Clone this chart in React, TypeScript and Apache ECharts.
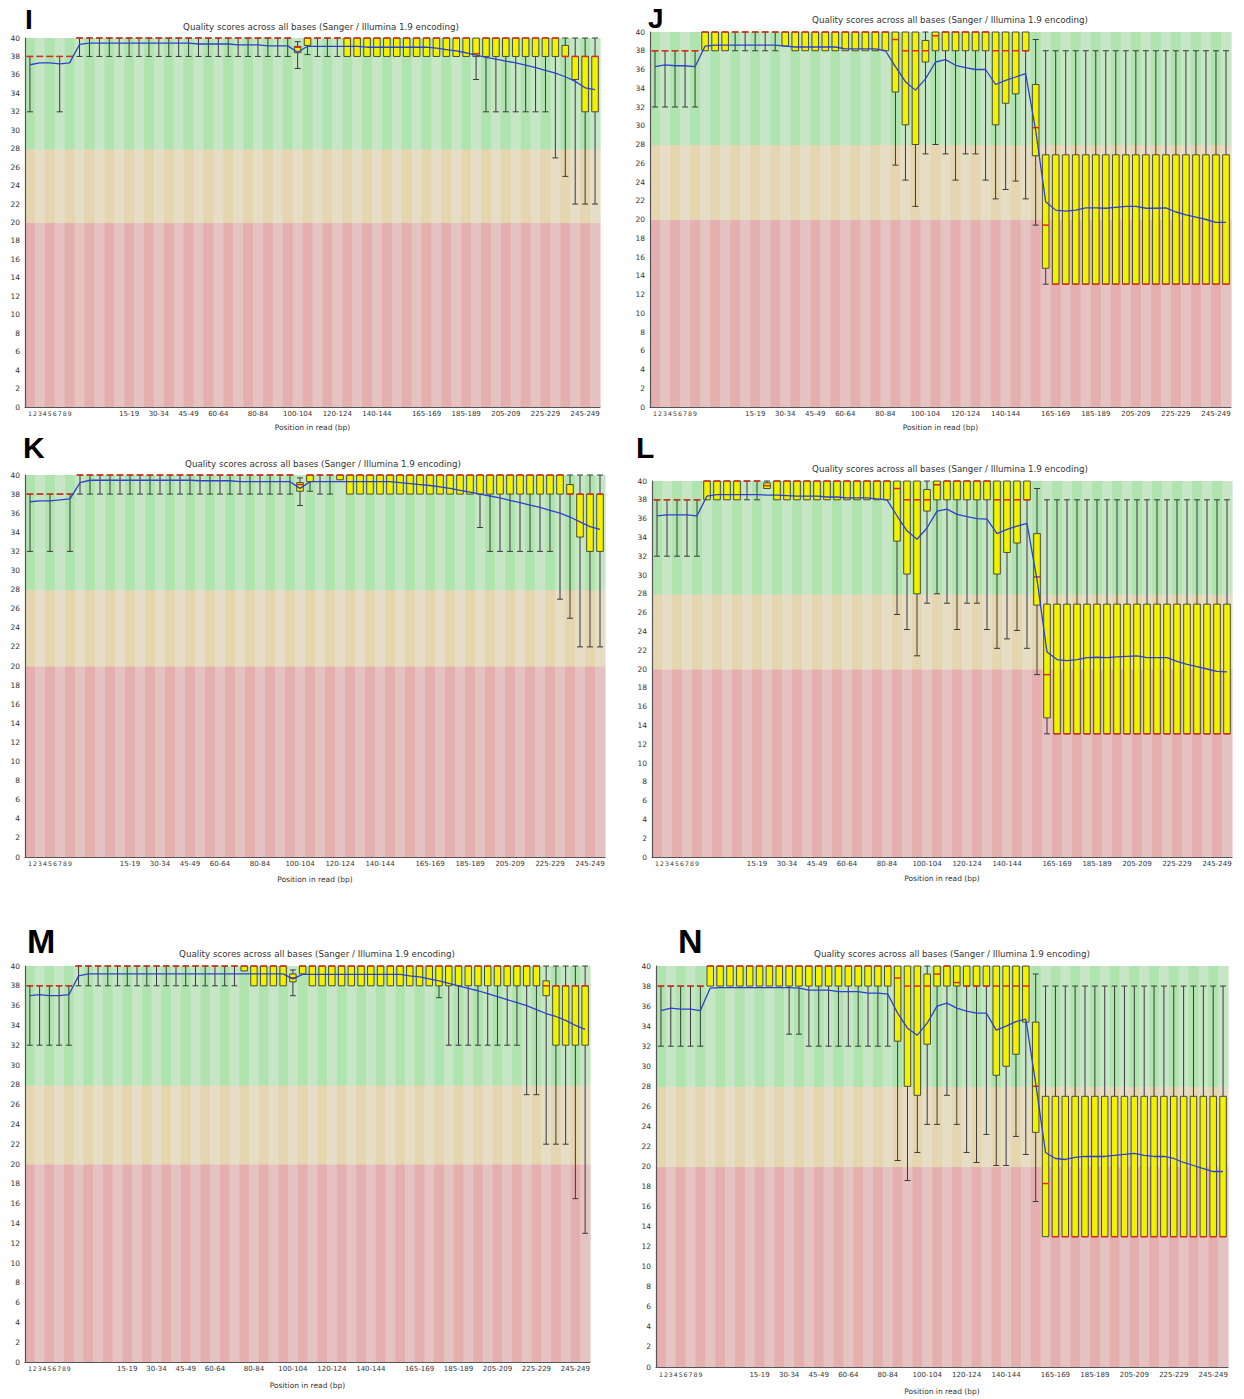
import React, { useEffect, useRef } from 'react';
import * as echarts from 'echarts';

// ---------- categories & tick labels ----------
const categories = [
  '1', '2', '3', '4', '5', '6', '7', '8', '9', '10-14', '15-19', '20-24', '25-29', '30-34', '35-39',
  '40-44', '45-49', '50-54', '55-59', '60-64', '65-69', '70-74', '75-79', '80-84', '85-89', '90-94',
  '95-99', '100-104', '105-109', '110-114', '115-119', '120-124', '125-129', '130-134', '135-139',
  '140-144', '145-149', '150-154', '155-159', '160-164', '165-169', '170-174', '175-179', '180-184',
  '185-189', '190-194', '195-199', '200-204', '205-209', '210-214', '215-219', '220-224', '225-229',
  '230-234', '235-239', '240-244', '245-249', '250-251',
];
const shownLabels = [
  '1', '2', '3', '4', '5', '6', '7', '8', '9', '15-19', '30-34', '45-49', '60-64', '80-84', '100-104',
  '120-124', '140-144', '165-169', '185-189', '205-209', '225-229', '245-249',
];
const yTicks = [0, 40, 2]; // min, max, step

// ---------- panel I ----------
const iLow = [32, 38, 38, 32, 38,
  38, 38, 38, 38, 38, 38, 38, 38, 38, 38, 38,
  38, 38, 38, 38, 38, 38, 38, 38, 38, 38, 38,
  36.7, 38.2, 38, 38, 38,
  38, 38, 38, 38, 38, 38, 38, 38, 38, 38, 38, 38, 38,
  35.5, 32, 32, 32, 32, 32, 32, 32,
  27, 25, 22, 22, 22];
const iQ1 = [38, 38, 38, 38, 38,
  40, 40, 40, 40, 40, 40, 40, 40, 40, 40, 40,
  40, 40, 40, 40, 40, 40, 40, 40, 40, 40, 40,
  38.4, 39.2, 40, 40, 40,
  38, 38, 38, 38, 38, 38, 38, 38, 38, 38, 38, 38, 38,
  38, 38, 38, 38, 38, 38, 38, 38,
  38, 38, 35.5, 32, 32];
const iMed = [38, 38, 38, 38, 38,
  40, 40, 40, 40, 40, 40, 40, 40, 40, 40, 40,
  40, 40, 40, 40, 40, 40, 40, 40, 40, 40, 40,
  39.0, 40, 40, 40, 40,
  40, 40, 40, 40, 40, 40, 40, 40, 40, 40, 40, 40, 40,
  38.3, 40, 40, 40, 40, 40, 40, 40,
  40, 38, 38, 38, 38];
const iQ3 = [38, 38, 38, 38, 38,
  40, 40, 40, 40, 40, 40, 40, 40, 40, 40, 40,
  40, 40, 40, 40, 40, 40, 40, 40, 40, 40, 40,
  39.1, 40, 40, 40, 40,
  40, 40, 40, 40, 40, 40, 40, 40, 40, 40, 40, 40, 40,
  40, 40, 40, 40, 40, 40, 40, 40,
  40, 39.2, 38, 38, 38];
const iHigh = [38, 38, 38, 38, 38,
  40, 40, 40, 40, 40, 40, 40, 40, 40, 40, 40,
  40, 40, 40, 40, 40, 40, 40, 40, 40, 40, 40,
  39.6, 40, 40, 40, 40,
  40, 40, 40, 40, 40, 40, 40, 40, 40, 40, 40, 40, 40,
  40, 40, 40, 40, 40, 40, 40, 40,
  40, 40, 40, 40, 40];
const iMean = [37.1, 37.3, 37.3, 37.2, 37.3,
  39.3, 39.45, 39.45, 39.45, 39.45, 39.45, 39.45, 39.45, 39.45, 39.45, 39.45,
  39.45, 39.35, 39.35, 39.35, 39.35, 39.25, 39.25, 39.25, 39.15, 39.15, 39.15,
  38.45, 39.1, 39.1, 39.1, 39.1,
  39.1, 39.1, 39.0, 39.0, 39.0, 39.0, 39.0, 39.0, 39.0, 38.9, 38.75, 38.6, 38.4,
  38.15, 37.9, 37.7, 37.5, 37.3, 37.05, 36.8, 36.5,
  36.2, 35.8, 35.3, 34.6, 34.4];

// ---------- panel J ----------
const jLow = [32, 32, 32, 32, 32,
  38, 38, 38, 38, 38, 38, 38, 38, 38.5, 38, 38,
  38, 38, 38, 38, 38, 38, 38, 38, 25.8, 24.2, 21.4,
  27, 28, 27, 24.2, 27,
  27, 24.2, 22.2, 23.2, 24.1, 22.2, 19.4, 13.1, 13.1, 13.1, 13.1, 13.1, 13.1,
  13.1, 13.1, 13.1, 13.1, 13.1, 13.1, 13.1, 13.1,
  13.1, 13.1, 13.1, 13.1, 13.1];
const jQ1 = [38, 38, 38, 38, 38,
  38, 38, 38, 40, 40, 40, 40, 40, 38.5, 38, 38,
  38, 38, 38, 38, 38, 38, 38, 38, 33.6, 30.1, 28,
  36.8, 38, 38, 38, 38,
  38, 38, 30.1, 32.4, 33.4, 38, 26.8, 14.8, 13.1, 13.1, 13.1, 13.1, 13.1,
  13.1, 13.1, 13.1, 13.1, 13.1, 13.1, 13.1, 13.1,
  13.1, 13.1, 13.1, 13.1, 13.1];
const jMed = [38, 38, 38, 38, 38,
  40, 40, 40, 40, 40, 40, 40, 40, 40, 40, 40,
  40, 40, 40, 40, 40, 40, 40, 40, 39.2, 38, 38,
  38, 39.6, 40, 40, 40,
  40, 40, 38, 38, 38, 38, 29.8, 19.4, 13.1, 13.1, 13.1, 13.1, 13.1,
  13.1, 13.1, 13.1, 13.1, 13.1, 13.1, 13.1, 13.1,
  13.1, 13.1, 13.1, 13.1, 13.1];
const jQ3 = [38, 38, 38, 38, 38,
  40, 40, 40, 40, 40, 40, 40, 40, 40, 40, 40,
  40, 40, 40, 40, 40, 40, 40, 40, 40, 40, 40,
  39.1, 40, 40, 40, 40,
  40, 40, 40, 40, 40, 40, 34.4, 26.9, 26.9, 26.9, 26.9, 26.9, 26.9,
  26.9, 26.9, 26.9, 26.9, 26.9, 26.9, 26.9, 26.9,
  26.9, 26.9, 26.9, 26.9, 26.9];
const jHigh = [38, 38, 38, 38, 38,
  40, 40, 40, 40, 40, 40, 40, 40, 40, 40, 40,
  40, 40, 40, 40, 40, 40, 40, 40, 40, 40, 40,
  40, 40, 40, 40, 40,
  40, 40, 40, 40, 40, 40, 39.2, 38, 38, 38, 38, 38, 38,
  38, 38, 38, 38, 38, 38, 38, 38,
  38, 38, 38, 38, 38];
const jMean = [36.3, 36.5, 36.4, 36.4, 36.3,
  38.5, 38.6, 38.6, 38.6, 38.6, 38.6, 38.6, 38.6, 38.5, 38.4, 38.4,
  38.4, 38.4, 38.4, 38.2, 38.2, 38.2, 38.2, 38.0, 36.3, 34.7, 33.8,
  35.0, 36.8, 37.05, 36.45, 36.2,
  36.0, 36.0, 34.4, 34.85, 35.2, 35.55, 29.5, 21.9, 21.0, 20.9, 21.0, 21.25, 21.25,
  21.2, 21.3, 21.4, 21.4, 21.2, 21.2, 21.25, 20.8,
  20.5, 20.25, 20.0, 19.7, 19.7];

// ---------- panel K ----------
const kLow = [32, 38, 32, 38, 32,
  38, 38, 38, 38, 38, 38, 38, 38, 38, 38, 38,
  38, 38, 38, 38, 38, 38, 38, 38, 38, 38, 38,
  36.8, 38.3, 38, 38, 39.5,
  38, 38, 38, 38, 38, 38, 38, 38, 38, 38, 38, 38, 38,
  34.5, 32, 32, 32, 32, 32, 32, 32,
  27, 25, 22, 22, 22];
const kQ1 = [38, 38, 38, 38, 38,
  40, 40, 40, 40, 40, 40, 40, 40, 40, 40, 40,
  40, 40, 40, 40, 40, 40, 40, 40, 40, 40, 40,
  38.3, 39.3, 40, 40, 39.5,
  38, 38, 38, 38, 38, 38, 38, 38, 38, 38, 38, 38, 38,
  38, 38, 38, 38, 38, 38, 38, 38,
  38, 38, 33.5, 32, 32];
const kMed = [38, 38, 38, 38, 38,
  40, 40, 40, 40, 40, 40, 40, 40, 40, 40, 40,
  40, 40, 40, 40, 40, 40, 40, 40, 40, 40, 40,
  39.0, 40, 40, 40, 40,
  40, 40, 40, 40, 40, 40, 40, 40, 40, 40, 40, 40, 40,
  40, 40, 40, 40, 40, 40, 40, 40,
  40, 38, 38, 38, 38];
const kQ3 = [38, 38, 38, 38, 38,
  40, 40, 40, 40, 40, 40, 40, 40, 40, 40, 40,
  40, 40, 40, 40, 40, 40, 40, 40, 40, 40, 40,
  39.2, 40, 40, 40, 40,
  40, 40, 40, 40, 40, 40, 40, 40, 40, 40, 40, 40, 40,
  40, 40, 40, 40, 40, 40, 40, 40,
  40, 39.0, 38, 38, 38];
const kHigh = [38, 38, 38, 38, 38,
  40, 40, 40, 40, 40, 40, 40, 40, 40, 40, 40,
  40, 40, 40, 40, 40, 40, 40, 40, 40, 40, 40,
  39.7, 40, 40, 40, 40,
  40, 40, 40, 40, 40, 40, 40, 40, 40, 40, 40, 40, 40,
  40, 40, 40, 40, 40, 40, 40, 40,
  40, 40, 40, 40, 40];
const kMean = [37.2, 37.3, 37.3, 37.4, 37.5,
  39.2, 39.45, 39.45, 39.45, 39.45, 39.45, 39.45, 39.45, 39.45, 39.45, 39.45,
  39.45, 39.4, 39.4, 39.4, 39.4, 39.3, 39.3, 39.3, 39.3, 39.3, 39.3,
  38.6, 39.3, 39.3, 39.3, 39.3,
  39.3, 39.3, 39.3, 39.3, 39.3, 39.2, 39.1, 39.0, 38.9, 38.75, 38.6, 38.4, 38.2,
  38.0, 37.8, 37.6, 37.35, 37.1, 36.85, 36.6, 36.3,
  36.0, 35.6, 35.1, 34.6, 34.3];

// ---------- panel L ----------
const lLow = [32, 32, 32, 32, 32,
  38, 38, 38, 38, 38, 38, 39.2, 38, 38, 38, 38,
  38, 38, 38, 38, 38, 38, 38, 38, 25.8, 24.2, 21.4,
  27, 28, 27, 24.2, 27,
  27, 24.2, 22.2, 23.2, 24.1, 22.2, 19.4, 13.1, 13.1, 13.1, 13.1, 13.1, 13.1,
  13.1, 13.1, 13.1, 13.1, 13.1, 13.1, 13.1, 13.1,
  13.1, 13.1, 13.1, 13.1, 13.1];
const lQ1 = [38, 38, 38, 38, 38,
  38, 38, 38, 38, 40, 40, 39.2, 38, 38, 38, 38,
  38, 38, 38, 38, 38, 38, 38, 38, 33.6, 30.1, 28,
  36.8, 38, 38, 38, 38,
  38, 38, 30.1, 32.4, 33.4, 38, 26.8, 14.8, 13.1, 13.1, 13.1, 13.1, 13.1,
  13.1, 13.1, 13.1, 13.1, 13.1, 13.1, 13.1, 13.1,
  13.1, 13.1, 13.1, 13.1, 13.1];
const lMed = [38, 38, 38, 38, 38,
  40, 40, 40, 40, 40, 40, 39.5, 40, 40, 40, 40,
  40, 40, 40, 40, 40, 40, 40, 40, 39.2, 38, 38,
  38, 39.6, 40, 40, 40,
  40, 40, 38, 38, 38, 38, 29.8, 19.4, 13.1, 13.1, 13.1, 13.1, 13.1,
  13.1, 13.1, 13.1, 13.1, 13.1, 13.1, 13.1, 13.1,
  13.1, 13.1, 13.1, 13.1, 13.1];
const lQ3 = [38, 38, 38, 38, 38,
  40, 40, 40, 40, 40, 40, 39.8, 40, 40, 40, 40,
  40, 40, 40, 40, 40, 40, 40, 40, 40, 40, 40,
  39.1, 40, 40, 40, 40,
  40, 40, 40, 40, 40, 40, 34.4, 26.9, 26.9, 26.9, 26.9, 26.9, 26.9,
  26.9, 26.9, 26.9, 26.9, 26.9, 26.9, 26.9, 26.9,
  26.9, 26.9, 26.9, 26.9, 26.9];
const lHigh = [38, 38, 38, 38, 38,
  40, 40, 40, 40, 40, 40, 40, 40, 40, 40, 40,
  40, 40, 40, 40, 40, 40, 40, 40, 40, 40, 40,
  40, 40, 40, 40, 40,
  40, 40, 40, 40, 40, 40, 39.2, 38, 38, 38, 38, 38, 38,
  38, 38, 38, 38, 38, 38, 38, 38,
  38, 38, 38, 38, 38];
const lMean = [36.3, 36.4, 36.4, 36.4, 36.3,
  38.4, 38.55, 38.55, 38.55, 38.55, 38.55, 38.5, 38.5, 38.45, 38.4, 38.4,
  38.4, 38.3, 38.3, 38.2, 38.2, 38.2, 38.1, 38.0, 36.3, 34.7, 33.8,
  35.0, 36.8, 37.0, 36.45, 36.2,
  36.0, 35.95, 34.4, 34.85, 35.2, 35.5, 29.5, 21.8, 21.0, 20.9, 21.0, 21.2, 21.25,
  21.2, 21.3, 21.35, 21.4, 21.2, 21.2, 21.2, 20.8,
  20.5, 20.25, 20.0, 19.75, 19.7];

// ---------- panel M ----------
const mLow = [32, 32, 32, 32, 32,
  38, 38, 38, 38, 38, 38, 38, 38, 38, 38, 38,
  38, 38, 38, 38, 38, 38, 39.5, 38, 38, 38, 38,
  37, 39.2, 38, 38, 38,
  38, 38, 38, 38, 38, 38, 38, 38, 38, 38, 36.8, 32, 32,
  32, 32, 32, 32, 32, 32, 27, 27,
  22, 22, 22, 16.5, 13];
const mQ1 = [38, 38, 38, 38, 38,
  40, 40, 40, 40, 40, 40, 40, 40, 40, 40, 40,
  40, 40, 40, 40, 40, 40, 39.5, 38, 38, 38, 38,
  38.4, 39.2, 38, 38, 38,
  38, 38, 38, 38, 38, 38, 38, 38, 38, 38, 38, 38, 38,
  38, 38, 38, 38, 38, 38, 38, 38,
  37, 32, 32, 32, 32];
const mMed = [38, 38, 38, 38, 38,
  40, 40, 40, 40, 40, 40, 40, 40, 40, 40, 40,
  40, 40, 40, 40, 40, 40, 40, 40, 40, 40, 40,
  38.8, 40, 40, 40, 40,
  40, 40, 40, 40, 40, 40, 40, 40, 40, 40, 40, 40, 40,
  40, 40, 40, 40, 40, 40, 40, 40,
  38, 38, 38, 38, 38];
const mQ3 = [38, 38, 38, 38, 38,
  40, 40, 40, 40, 40, 40, 40, 40, 40, 40, 40,
  40, 40, 40, 40, 40, 40, 40, 40, 40, 40, 40,
  39.2, 40, 40, 40, 40,
  40, 40, 40, 40, 40, 40, 40, 40, 40, 40, 40, 40, 40,
  40, 40, 40, 40, 40, 40, 40, 40,
  38.5, 38, 38, 38, 38];
const mHigh = [38, 38, 38, 38, 38,
  40, 40, 40, 40, 40, 40, 40, 40, 40, 40, 40,
  40, 40, 40, 40, 40, 40, 40, 40, 40, 40, 40,
  39.6, 40, 40, 40, 40,
  40, 40, 40, 40, 40, 40, 40, 40, 40, 40, 40, 40, 40,
  40, 40, 40, 40, 40, 40, 40, 40,
  40, 40, 40, 40, 40];
const mMean = [37.0, 37.1, 37.0, 37.0, 37.1,
  39.0, 39.2, 39.2, 39.2, 39.2, 39.2, 39.2, 39.2, 39.2, 39.2, 39.2,
  39.2, 39.2, 39.2, 39.2, 39.2, 39.2, 39.2, 39.2, 39.2, 39.2, 39.2,
  38.7, 39.15, 39.15, 39.15, 39.15,
  39.15, 39.15, 39.15, 39.15, 39.15, 39.15, 39.15, 39.0, 38.9, 38.7, 38.5, 38.25, 38.0,
  37.75, 37.5, 37.2, 36.9, 36.6, 36.3, 36.0, 35.6,
  35.2, 34.9, 34.5, 34.0, 33.6];

// ---------- panel N ----------
const nLow = [32, 32, 32, 32, 32,
  38, 38, 38, 38, 38, 38, 38, 38, 33.2, 33.2, 32,
  32, 32, 32, 32, 32, 32, 32, 32, 20.6, 18.6, 21.4,
  24.2, 24.2, 27.1, 24.2, 21.4,
  20.4, 23.2, 20.1, 20.1, 23.0, 21.2, 16.5, 13, 13, 13, 13, 13, 13,
  13, 13, 13, 13, 13, 13, 13, 13,
  13, 13, 13, 13, 13];
const nQ1 = [38, 38, 38, 38, 38,
  38, 38, 38, 38, 38, 38, 38, 38, 38, 38, 38,
  38, 38, 38, 38, 38, 38, 38, 38, 32.5, 28, 27.1,
  32.2, 38, 38, 38, 38,
  38, 38, 29.1, 30.0, 31.2, 34.4, 23.4, 13, 13, 13, 13, 13, 13,
  13, 13, 13, 13, 13, 13, 13, 13,
  13, 13, 13, 13, 13];
const nMed = [38, 38, 38, 38, 38,
  40, 40, 40, 40, 40, 40, 40, 40, 40, 40, 40,
  40, 40, 40, 40, 40, 40, 40, 40, 38.8, 38, 38,
  38, 39.2, 40, 38.35, 38,
  38, 38, 38, 38, 38, 38, 28.0, 18.3, 13, 13, 13, 13, 13,
  13, 13, 13, 13, 13, 13, 13, 13,
  13, 13, 13, 13, 13];
const nQ3 = [38, 38, 38, 38, 38,
  40, 40, 40, 40, 40, 40, 40, 40, 40, 40, 40,
  40, 40, 40, 40, 40, 40, 40, 40, 40, 40, 40,
  39.2, 40, 40, 40, 40,
  40, 40, 40, 40, 40, 40, 34.4, 27, 27, 27, 27, 27, 27,
  27, 27, 27, 27, 27, 27, 27, 27,
  27, 27, 27, 27, 27];
const nHigh = [38, 38, 38, 38, 38,
  40, 40, 40, 40, 40, 40, 40, 40, 40, 40, 40,
  40, 40, 40, 40, 40, 40, 40, 40, 40, 40, 40,
  40, 40, 40, 40, 40,
  40, 40, 40, 40, 40, 40, 39.2, 38, 38, 38, 38, 38, 38,
  38, 38, 38, 38, 38, 38, 38, 38,
  38, 38, 38, 38, 38];
const nMean = [35.55, 35.8, 35.7, 35.7, 35.55,
  37.8, 37.85, 37.85, 37.85, 37.85, 37.85, 37.85, 37.85, 37.85, 37.8, 37.6,
  37.6, 37.6, 37.45, 37.45, 37.45, 37.3, 37.3, 37.2, 35.3, 33.8, 33.1,
  34.3, 36.0, 36.3, 35.8, 35.5,
  35.3, 35.3, 33.6, 34.0, 34.45, 34.7, 28.3, 21.4, 20.8, 20.7, 20.9, 21.0, 21.0,
  21.0, 21.1, 21.2, 21.3, 21.1, 21.0, 21.0, 20.8,
  20.4, 20.1, 19.8, 19.5, 19.5];

const TITLE = 'Quality scores across all bases (Sanger / Illumina 1.9 encoding)';
const AXIS_NAME = 'Position in read (bp)';

const panels = [
  { letter: 'I', low: iLow, q1: iQ1, med: iMed, q3: iQ3, high: iHigh, mean: iMean },
  { letter: 'J', low: jLow, q1: jQ1, med: jMed, q3: jQ3, high: jHigh, mean: jMean },
  { letter: 'K', low: kLow, q1: kQ1, med: kMed, q3: kQ3, high: kHigh, mean: kMean },
  { letter: 'L', low: lLow, q1: lQ1, med: lMed, q3: lQ3, high: lHigh, mean: lMean },
  { letter: 'M', low: mLow, q1: mQ1, med: mMed, q3: mQ3, high: mHigh, mean: mMean },
  { letter: 'N', low: nLow, q1: nQ1, med: nMed, q3: nQ3, high: nHigh, mean: nMean },
];

// layout (pixels) — not data
const layouts = [
  { left: 25, top: 38, width: 575, height: 369, tx: 321, ty: 27, lx: 25, ly: 19, ls: 28, gap: 16, lm: 3 },
  { left: 650, top: 32, width: 581, height: 375, tx: 950, ty: 20, lx: 648, ly: 18, ls: 28, gap: 16, lm: 3 },
  { left: 25, top: 475, width: 580, height: 382, tx: 323, ty: 464, lx: 23, ly: 447, ls: 30, gap: 18, lm: 3 },
  { left: 652, top: 481, width: 580, height: 376, tx: 950, ty: 469, lx: 636, ly: 447, ls: 30, gap: 17, lm: 3 },
  { left: 25, top: 966, width: 565, height: 396, tx: 317, ty: 954, lx: 27, ly: 941, ls: 34, gap: 19, lm: 3 },
  { left: 656, top: 966, width: 572, height: 401, tx: 952, ty: 954, lx: 678, ly: 941, ls: 34, gap: 20, lm: 4 },
];

const FONT = '"DejaVu Sans", sans-serif';
const GREEN_D = 'rgb(175,228,175)';
const GREEN_L = 'rgb(198,230,198)';
const ORANGE_D = 'rgb(230,214,176)';
const ORANGE_L = 'rgb(229,221,198)';
const RED_D = 'rgb(230,175,175)';
const RED_L = 'rgb(229,195,195)';
const YELLOW = 'rgb(242,242,0)';
const BOX_EDGE = '#4a4a3a';
const WHISKER = '#3a3a3a';
const MEDIAN = 'rgb(220,45,25)';
const MEAN = 'rgb(45,65,205)';

// label slots: single bases get compressed slots, groups sit on their category centre
const SLOT_COUNT = categories.length * 2 + 1;
const slotLabels: string[] = new Array(SLOT_COUNT).fill('');
shownLabels.forEach((lbl) => {
  const idx = categories.indexOf(lbl);
  const slot = idx < 9 ? idx + 1 : idx * 2 + 1;
  slotLabels[slot] = idx < 9 ? '{d|' + lbl + '}' : lbl;
});
const slotIds = slotLabels.map((_, i) => 's' + i);

function bgRender(params: any, api: any) {
  const i = api.value(0);
  const base = api.coord([i, yTicks[0]]);
  const w = api.size([1, 0])[0];
  const x = base[0] - w / 2;
  const y20 = api.coord([i, 20])[1];
  const y28 = api.coord([i, 28])[1];
  const y40 = api.coord([i, yTicks[1]])[1];
  const dark = i % 2 === 0;
  return {
    type: 'group',
    children: [
      { type: 'rect', shape: { x, y: y20, width: w + 0.6, height: base[1] - y20 }, style: { fill: dark ? RED_D : RED_L } },
      { type: 'rect', shape: { x, y: y28, width: w + 0.6, height: y20 - y28 + 0.6 }, style: { fill: dark ? ORANGE_D : ORANGE_L } },
      { type: 'rect', shape: { x, y: y40, width: w + 0.6, height: y28 - y40 + 0.6 }, style: { fill: dark ? GREEN_D : GREEN_L } },
    ],
  };
}

function boxRender(params: any, api: any) {
  const i = api.value(0);
  const low = api.value(1);
  const q1 = api.value(2);
  const med = api.value(3);
  const q3 = api.value(4);
  const high = api.value(5);
  const cx = api.coord([i, 0])[0];
  const band = api.size([1, 0])[0];
  const bw = band * 0.66;
  const cw = band * 0.6;
  const y = (v: number) => api.coord([i, v])[1];
  const ws = { stroke: WHISKER, lineWidth: 1 };
  const children: any[] = [];
  if (high > q3) {
    children.push({ type: 'line', shape: { x1: cx, y1: y(high), x2: cx, y2: y(q3) }, style: ws });
    children.push({ type: 'line', shape: { x1: cx - cw / 2, y1: y(high), x2: cx + cw / 2, y2: y(high) }, style: ws });
  }
  if (low < q1) {
    children.push({ type: 'line', shape: { x1: cx, y1: y(q1), x2: cx, y2: y(low) }, style: ws });
    children.push({ type: 'line', shape: { x1: cx - cw / 2, y1: y(low), x2: cx + cw / 2, y2: y(low) }, style: ws });
  }
  if (q3 > q1) {
    children.push({
      type: 'rect',
      shape: { x: cx - bw / 2, y: y(q3), width: bw, height: y(q1) - y(q3) },
      style: { fill: YELLOW, stroke: BOX_EDGE, lineWidth: 1 },
    });
  } else {
    children.push({ type: 'line', shape: { x1: cx - bw / 2, y1: y(q1), x2: cx + bw / 2, y2: y(q1) }, style: ws });
  }
  children.push({
    type: 'line',
    shape: { x1: cx - bw / 2, y1: y(med), x2: cx + bw / 2, y2: y(med) },
    style: { stroke: MEDIAN, lineWidth: 1.5 },
  });
  return { type: 'group', children };
}

function buildOption() {
  const grid: any[] = [];
  const xAxis: any[] = [];
  const yAxis: any[] = [];
  const series: any[] = [];
  const elements: any[] = [];

  panels.forEach((p, g) => {
    const L = layouts[g];
    grid.push({ left: L.left, top: L.top, width: L.width, height: L.height, containLabel: false, outerBoundsMode: 'none' });
    xAxis.push({
      gridIndex: g, type: 'category', data: categories, position: 'bottom', boundaryGap: true, z: 10,
      axisLine: { show: true, lineStyle: { color: '#555', width: 1.2 } },
      axisTick: { show: false }, axisLabel: { show: false }, splitLine: { show: false },
      name: AXIS_NAME, nameLocation: 'middle', nameGap: L.gap,
      nameTextStyle: { fontSize: 7.5, color: '#333', fontFamily: FONT },
    });
    xAxis.push({
      gridIndex: g, type: 'category', data: slotIds, position: 'bottom', boundaryGap: false, z: 10,
      axisLine: { show: false }, axisTick: { show: false }, splitLine: { show: false },
      axisLabel: {
        interval: 0, margin: L.lm, fontSize: 7, color: '#333', fontFamily: FONT,
        formatter: (_v: string, idx: number) => slotLabels[idx],
        rich: { d: { fontSize: 6.2, color: '#333', fontFamily: FONT } },
      },
    });
    yAxis.push({
      gridIndex: g, type: 'value', min: yTicks[0], max: yTicks[1], interval: yTicks[2], z: 10,
      axisLine: { show: true, lineStyle: { color: '#555', width: 1.2 } },
      axisTick: { show: false }, splitLine: { show: false },
      axisLabel: { fontSize: 7.5, color: '#333', margin: 5, fontFamily: FONT },
    });
    series.push({
      type: 'custom', xAxisIndex: g * 2, yAxisIndex: g, silent: true, z: 1,
      renderItem: bgRender,
      encode: { x: 0 },
      data: categories.map((_, i) => [i]),
    });
    series.push({
      type: 'custom', xAxisIndex: g * 2, yAxisIndex: g, silent: true, z: 2,
      renderItem: boxRender,
      encode: { x: 0, y: [1, 2, 3, 4, 5] },
      data: categories.map((_, i) => [i, p.low[i], p.q1[i], p.med[i], p.q3[i], p.high[i]]),
    });
    series.push({
      type: 'line', xAxisIndex: g * 2, yAxisIndex: g, silent: true, z: 3,
      data: p.mean, symbol: 'none', showSymbol: false,
      lineStyle: { color: MEAN, width: 1.3 },
    });
    elements.push({
      type: 'text', x: L.tx, y: L.ty, silent: true, z: 20,
      style: {
        text: TITLE, fill: '#333', fontSize: 8.7, fontFamily: FONT,
        textAlign: 'center', textVerticalAlign: 'middle', align: 'center', verticalAlign: 'middle',
      },
    });
    elements.push({
      type: 'text', x: L.lx, y: L.ly, silent: true, z: 20,
      style: {
        text: p.letter, fill: '#000', fontSize: L.ls, fontWeight: 'bold',
        fontFamily: '"Liberation Sans", Arial, sans-serif',
        textAlign: 'left', textVerticalAlign: 'middle', align: 'left', verticalAlign: 'middle',
      },
    });
  });

  return {
    animation: false,
    backgroundColor: '#fff',
    grid, xAxis, yAxis, series,
    graphic: { elements },
  };
}

export default function App() {
  const ref = useRef<HTMLDivElement>(null);
  useEffect(() => {
    if (!ref.current) return;
    const chart = echarts.init(ref.current, null, { renderer: 'svg' });
    chart.setOption(buildOption() as any);
    return () => chart.dispose();
  }, []);
  return (
    <div
      ref={ref}
      style={{ position: 'absolute', left: 0, top: 0, width: 1244, height: 1399, background: '#fff' }}
    />
  );
}
